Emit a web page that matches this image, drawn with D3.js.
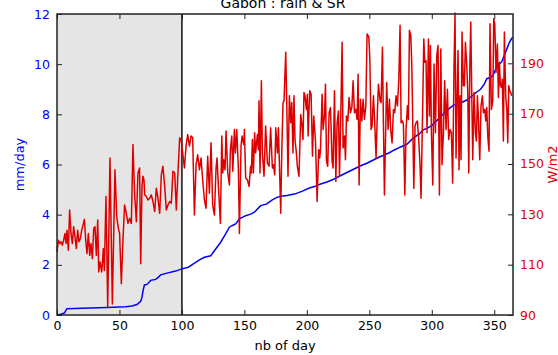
<!DOCTYPE html>
<html>
<head>
<meta charset="utf-8">
<script src="https://cdn.jsdelivr.net/npm/d3@7"></script>
<style>
  body { margin: 0; background: #fff; }
  svg { font-family: "DejaVu Sans", sans-serif; }
</style>
</head>
<body>
<svg id="chart" width="558" height="355"></svg>
<script>
// blue: rain (mm/day), read at key days
const rainDay = [0, 3, 6, 8, 20, 40, 55, 60, 64, 67, 68, 69, 70, 72, 75, 79, 81, 83, 88, 95, 100,
  105, 107, 111, 114, 118, 123, 127, 131, 135, 138, 140, 143, 146, 151, 155, 158, 163, 168, 172,
  176, 179, 184, 190, 196, 202, 206, 211, 216, 220, 224, 228, 232, 237, 243, 248, 252, 258, 261,
  266, 270, 275, 280, 285, 290, 293, 296, 300, 304, 307, 312, 317, 323, 328, 331, 335, 339, 342,
  344, 347, 349, 352, 356, 358, 360, 362, 364, 365];
const rainVal = [0, 0.03, 0.08, 0.25, 0.27, 0.3, 0.33, 0.36, 0.42, 0.55, 0.7, 1.0, 1.2, 1.22, 1.38,
  1.42, 1.5, 1.6, 1.67, 1.75, 1.84, 1.9, 1.97, 2.1, 2.2, 2.3, 2.36, 2.63, 2.9, 3.23, 3.5, 3.56,
  3.63, 3.83, 3.96, 4.02, 4.1, 4.36, 4.43, 4.58, 4.69, 4.73, 4.76, 4.82, 4.93, 5.06, 5.12, 5.22,
  5.3, 5.38, 5.48, 5.58, 5.68, 5.8, 5.95, 6.05, 6.15, 6.3, 6.36, 6.47, 6.58, 6.7, 6.8, 7.05, 7.22,
  7.38, 7.44, 7.55, 7.75, 7.9, 8.15, 8.36, 8.45, 8.57, 8.68, 8.85, 9.0, 9.2, 9.42, 9.47, 9.55, 9.9,
  10.1, 10.35, 10.6, 10.85, 11.04, 11.05];

// red: solar radiation (W/m2)
const srDay = [0, 1.1, 2.1, 3.2, 4.3, 5.3, 6.4, 7.2, 8, 9.1, 10.1, 11.2, 12.3, 13.3, 14.4, 15.5,
  16.5, 17.6, 18.7, 19.8, 20.8, 21.9, 23, 24, 25.1, 26.2, 27.2, 28.3, 29.4, 30.4, 31.5, 32.6, 33.4,
  34.4, 35.8, 37.1, 37.9, 39.2, 40.6, 42.4, 44.3, 46.4, 47.8, 49.1, 50.1, 51.5, 52.8, 54.1, 55.5,
  56.8, 58.1, 59.5, 60.8, 62.1, 63.5, 64.8, 66.1, 67, 68, 68.8, 69.6, 70.2, 71.5, 72.8, 74.2, 75.5,
  76.8, 78.2, 79.5, 80.8, 82.2, 83.5, 84.8, 86.2, 87.5, 88.8, 90.2, 91.5, 92.8, 94.2, 95.5, 96.8,
  98.2, 99.5, 100.6, 102, 103.3, 104.6, 106, 107.3, 108.6, 110, 111.3, 112.6, 114, 115.3, 116.6,
  118, 119.3, 120.6, 122, 123.3, 124.6, 126, 127.3, 128.1, 129.2, 130.8, 131.9, 132.7, 133.5,
  134.5, 135.3, 136.7, 138, 138.8, 139.9, 140.7, 142, 142.8, 143.9, 145.2, 146, 147.3, 148.1,
  149.5, 150, 151, 152.4, 153.7, 155, 155.6, 156.4, 157.2, 158.2, 159, 160.4, 161.2, 161.7, 162.5,
  163.6, 164.4, 165.7, 167, 168.4, 169.7, 171, 172.4, 173.2, 174.3, 175.1, 176.4, 177.2, 178,
  179.1, 179.9, 180.9, 181.7, 183.1, 183.9, 184.9, 186, 187.1, 187.9, 188.9, 189.7, 190.5, 191.6,
  192.4, 193.7, 195.1, 195.9, 196.9, 197.7, 198.5, 199.6, 200.4, 201, 202.3, 203.4, 204.5, 205.5,
  206.9, 208.2, 209.5, 210.3, 210.9, 212.2, 213, 214.1, 214.9, 215.7, 216.7, 217.8, 218.9, 220.2,
  221, 222.1, 223.2, 224.2, 225.3, 226.1, 226.9, 228.2, 229, 230.1, 230.9, 231.7, 232.8, 233.8,
  234.9, 236, 237, 238.1, 239.2, 240.2, 241, 241.8, 242.9, 244, 245, 246.1, 247.2, 248.2, 249.6,
  250.4, 251.4, 252.2, 253.3, 254.3, 255.4, 256.5, 257.3, 258.6, 259.4, 260.5, 261.3, 262.1,
  263.1, 263.9, 265, 266.1, 267.1, 268.2, 269.3, 270.3, 271.4, 272.5, 273.6, 274.6, 275.4, 276.5,
  277.3, 278.4, 279.4, 280.5, 281.3, 282.1, 283.2, 284, 284.8, 285.6, 286.6, 287.4, 288.5, 289.6,
  290.6, 291.4, 292.5, 293.6, 294.4, 295.4, 296.2, 297.3, 298.1, 298.9, 299.7, 300.8, 301.8,
  302.9, 304, 305, 306.1, 307.2, 308.2, 309.3, 310.3, 311.4, 312.5, 313.5, 314.6, 315.7, 316.7,
  317.8, 318.6, 319.4, 320.2, 321, 321.8, 322.6, 323.4, 324.2, 325.3, 326.1, 326.9, 328, 328.8,
  329.6, 330.4, 331.2, 332, 332.8, 333.8, 334.9, 335.7, 336.5, 337.3, 338.4, 339.4, 340.5, 341.3,
  342.4, 343.2, 344, 344.8, 345.8, 346.6, 347.7, 348.8, 349.6, 350.4, 351.4, 352.5, 353.3, 354.1,
  354.9, 355.7, 356.5, 357.3, 358.1, 359.2, 360, 360.8, 361.6, 362.4, 363.2, 364];
const srVal = [115.1, 119.7, 118.4, 119.1, 117.7, 119.7, 122.4, 118.4, 123.7, 115.7, 131.7, 122.4,
  118.4, 125.1, 121.1, 116.4, 123.7, 119.1, 120.4, 123.7, 125.7, 128, 119.7, 114.4, 122.4, 113.7,
  118.4, 112.4, 124.4, 125.1, 113.7, 127.7, 107.1, 111.1, 107.1, 116.4, 107.7, 137.1, 93.1, 152.4,
  94.4, 147.7, 129.1, 124.4, 122.4, 102.4, 119.7, 133.7, 130.4, 126.4, 128.4, 126.4, 157.7, 138.4,
  127.1, 146.4, 148.4, 110.4, 141.1, 145.1, 143.7, 137.7, 137.1, 135.7, 136.4, 137.7, 135.1,
  131.1, 140.4, 136.4, 130.4, 145.7, 149.1, 141.1, 131.7, 133.7, 135.1, 134.4, 147.1, 146.4,
  131.7, 146.4, 160.4, 159.1, 154.4, 148.4, 157.1, 161.7, 157.1, 161.1, 160.4, 129.7, 149.7,
  153.7, 147.7, 152.4, 143.7, 135.7, 132.4, 153.1, 138.4, 158.4, 133.7, 129.7, 148.4, 152.4,
  141.1, 126.4, 161.1, 146.4, 151.7, 147.7, 163.1, 146.4, 141.7, 155.7, 161.1, 147.1, 163.7,
  154.4, 163.7, 147.7, 122.4, 157.1, 161.1, 157.7, 163.7, 144.4, 143.7, 141.1, 149.1, 146.4,
  159.7, 146.4, 162.4, 154.4, 161.7, 155.7, 175.1, 146.4, 183.1, 154.4, 145.1, 165.1, 150.4,
  149.1, 164.4, 148.4, 149.7, 145.7, 164.4, 154.4, 164.4, 150.4, 130.4, 154.4, 174.4, 175.1,
  194.4, 174.4, 145.1, 177.1, 166.4, 174.4, 154.4, 177.1, 159.7, 154.4, 149.1, 145.1, 169.7,
  166.4, 159.7, 178.4, 177.1, 171.7, 177.7, 161.1, 179.1, 177.7, 153.1, 169.1, 159.1, 135.1,
  155.7, 152.4, 155.7, 177.7, 163.7, 169.1, 181.7, 151.1, 149.1, 170.4, 172.4, 151.1, 148.4,
  179.1, 143.1, 166.4, 171.1, 145.1, 162.4, 198.4, 156.4, 161.1, 151.7, 169.1, 167.1, 176.4,
  170.4, 172.4, 183.1, 170.4, 171.7, 167.7, 185.7, 141.7, 175.7, 167.1, 175.7, 167.7, 173.1,
  201.7, 200.4, 191.7, 163.7, 165.1, 177.1, 166.4, 152.4, 171.7, 181.7, 175.1, 174.4, 196.4,
  165.1, 137.7, 163.7, 182.4, 163.7, 175.7, 163.7, 158.4, 171.7, 170.4, 177.1, 173.1, 183.7,
  205.1, 166.4, 167.1, 165.7, 137.7, 163.7, 173.1, 167.7, 203.1, 201.1, 189.1, 165.1, 140.4,
  165.1, 166.4, 167.1, 159.1, 149.1, 136.4, 166.4, 199.7, 190.4, 191.1, 162.4, 199.7, 169.1,
  197.1, 162.4, 141.7, 189.7, 162.4, 193.1, 197.1, 137.7, 195.7, 149.7, 162.4, 183.1, 163.7,
  179.7, 159.7, 163.7, 162.4, 142.4, 189.1, 210, 152.4, 175.7, 195.1, 147.7, 177.1, 151.7, 202.4,
  181.1, 181.1, 198.4, 189.1, 178.4, 146.4, 187.7, 206.4, 177.7, 151.7, 178.4, 162.4, 159.1,
  177.1, 168.4, 151.7, 173.1, 177.1, 170.4, 171.7, 167.1, 172.4, 161.1, 155.1, 205.7, 171.7,
  175.1, 207.7, 205.7, 186.4, 197.7, 176.4, 190.4, 181.1, 180.4, 183.7, 159.1, 202.4, 176.4,
  172.4, 158.4, 181.1, 179.1, 178.4, 177.1];

const xTicks = [0, 50, 100, 150, 200, 250, 300, 350];
const leftTicks = [0, 2, 4, 6, 8, 10, 12];
const rightTicks = [90, 110, 130, 150, 170, 190];
const shadeRange = [0, 100];

const svg = d3.select("#chart");
const margin = { top: 14, right: 45, bottom: 40, left: 57 },
    width = 558, height = 355,
    innerWidth = width - margin.left - margin.right,
    innerHeight = height - margin.top - margin.bottom;

const blue = "#0000ff", red = "#dd0000";

const x = d3.scaleLinear().domain([0, 365]).range([margin.left, margin.left + innerWidth]);
const yL = d3.scaleLinear().domain([0, 12]).range([margin.top + innerHeight, margin.top]);
const yR = d3.scaleLinear().domain([90, 209.6]).range([margin.top + innerHeight, margin.top]);

// grey period
svg.append("rect")
    .attr("x", x(shadeRange[0]))
    .attr("y", margin.top)
    .attr("width", x(shadeRange[1]) - x(shadeRange[0]))
    .attr("height", innerHeight)
    .attr("fill", "#e5e5e5");

svg.append("line")
    .attr("x1", x(shadeRange[1])).attr("x2", x(shadeRange[1]))
    .attr("y1", margin.top).attr("y2", margin.top + innerHeight)
    .attr("stroke", "#111").attr("stroke-width", 1.5);

// lines
const rain = rainDay.map((d, i) => [d, rainVal[i]]);
const sr = srDay.map((d, i) => [d, srVal[i]]);

svg.append("path")
    .datum(rain)
    .attr("fill", "none")
    .attr("stroke", blue)
    .attr("stroke-width", 1.5)
    .attr("d", d3.line().x(d => x(d[0])).y(d => yL(d[1])));

svg.append("g")
    .append("path")
    .datum(sr)
    .attr("fill", "none")
    .attr("stroke", red)
    .attr("stroke-width", 1.5)
    .attr("stroke-linejoin", "round")
    .attr("d", d3.line().x(d => x(d[0])).y(d => yR(d[1])));

// axes, ticks inside
const bottomAxis = svg.append("g")
    .attr("transform", `translate(0,${margin.top + innerHeight})`)
    .call(d3.axisBottom(x).tickValues(xTicks).tickSize(-5).tickPadding(6));
svg.append("g")
    .attr("transform", `translate(0,${margin.top})`)
    .call(d3.axisTop(x).tickValues(xTicks).tickSize(-5).tickFormat(""));
const leftAxis = svg.append("g")
    .attr("transform", `translate(${margin.left},0)`)
    .call(d3.axisLeft(yL).tickValues(leftTicks).tickSize(-5).tickPadding(7));
const rightAxis = svg.append("g")
    .attr("transform", `translate(${margin.left + innerWidth},0)`)
    .call(d3.axisRight(yR).tickValues(rightTicks).tickSize(-5).tickPadding(7));

svg.selectAll(".domain").remove();
svg.selectAll(".tick line").attr("stroke", "#222").attr("stroke-width", 1);
svg.selectAll(".tick text").attr("font-size", "12.5px").attr("font-family", "DejaVu Sans");
bottomAxis.selectAll(".tick text").attr("fill", "#000");
leftAxis.selectAll(".tick text").attr("fill", blue);
rightAxis.selectAll(".tick text").attr("fill", red);

// frame
svg.append("rect")
    .attr("x", margin.left).attr("y", margin.top)
    .attr("width", innerWidth).attr("height", innerHeight)
    .attr("fill", "none").attr("stroke", "#222").attr("stroke-width", 1.5);

// labels
svg.append("text")
    .attr("x", 283).attr("y", 7.5)
    .attr("text-anchor", "middle")
    .attr("font-size", "14px")
    .text("Gabon : rain & SR");

svg.append("text")
    .attr("x", margin.left + innerWidth / 2).attr("y", 350)
    .attr("text-anchor", "middle")
    .attr("font-size", "13px")
    .text("nb of day");

svg.append("text")
    .attr("transform", `translate(24,${margin.top + innerHeight / 2}) rotate(-90)`)
    .attr("text-anchor", "middle")
    .attr("font-size", "13px")
    .attr("fill", blue)
    .text("mm/day");

svg.append("text")
    .attr("transform", `translate(557,${margin.top + innerHeight / 2}) rotate(-90)`)
    .attr("text-anchor", "middle")
    .attr("font-size", "13px")
    .attr("fill", red)
    .text("W/m2");
</script>
</body>
</html>
